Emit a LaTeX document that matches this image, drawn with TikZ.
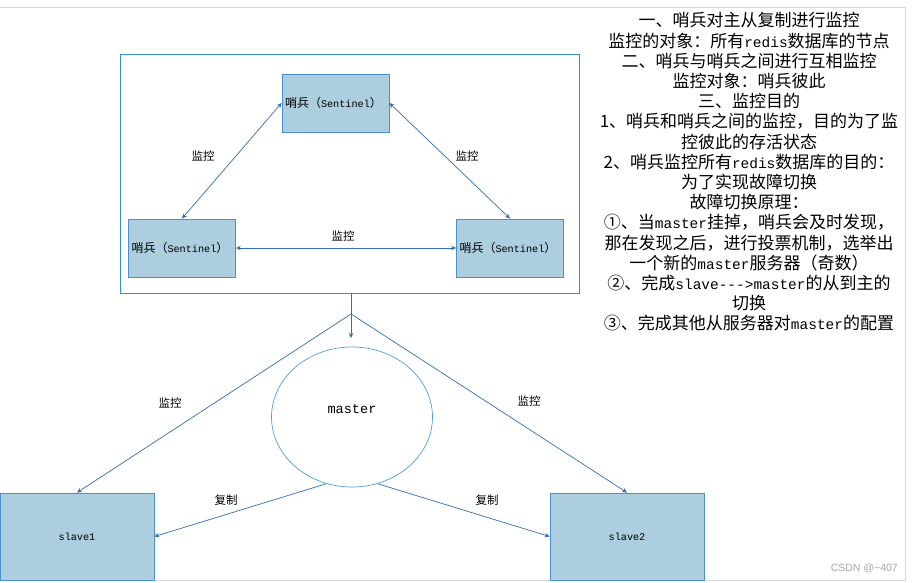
\documentclass[tikz,border=0pt]{standalone}
\usepackage{fontspec}
\setmainfont{Noto Sans CJK SC}
\newfontfamily\latfont{Liberation Mono}[Scale=0.85]
\newfontfamily\wmfont{Liberation Sans}
\newcommand\mono[1]{{\latfont #1}}
\usetikzlibrary{arrows.meta,shapes.geometric}
\definecolor{framegray}{HTML}{D9D9D9}
\definecolor{outerblue}{HTML}{3A8CD0}
\definecolor{boxline}{HTML}{4A90D0}
\definecolor{boxfill}{HTML}{ACCEDE}
\definecolor{arrowblue}{HTML}{2F70B0}
\definecolor{ellblue}{HTML}{4DA3E0}
\tikzset{
  sentbox/.style={draw=boxline, fill=boxfill, line width=0.8pt, inner xsep=3pt, inner ysep=0pt,
    text width=101pt, align=left, minimum height=58pt, font=\fontsize{12}{13}\selectfont},
  slavebox/.style={draw=boxline, fill=boxfill, line width=0.8pt, minimum width=154pt, minimum height=87pt,
    inner sep=0pt, font=\fontsize{12}{13}\selectfont\latfont},
  conn/.style={draw=arrowblue, line width=0.7pt},
  tip/.style={-{Stealth[length=5pt,width=4.5pt]}},
  dtip/.style={{Stealth[length=5pt,width=4.5pt]}-{Stealth[length=5pt,width=4.5pt]}},
  lbl/.style={font=\fontsize{11.5}{13}\selectfont, inner sep=0pt},
}
\begin{document}
\begin{tikzpicture}[x=1pt,y=-1pt]
\useasboundingbox (0,0) rectangle (913,583);
\fill[white] (0,0) rectangle (913,583);
% light frame
\draw[framegray, line width=0.8pt] (-2,7) -- (905,7) -- (905,580) -- (-2,580);

% sentinel group
\node[draw=outerblue, line width=0.8pt, minimum width=459pt, minimum height=239pt, inner sep=0pt] (group) at (349.5,173.5) {};
\node[sentbox] (stop) at (335.5,103) {哨兵（\mono{Sentinel}）};
\node[sentbox] (sleft) at (182,248) {哨兵（\mono{Sentinel}）};
\node[sentbox] (sright) at (510,248) {哨兵（\mono{Sentinel}）};

\draw[conn,dtip] (stop.west) -- (sleft.north);
\draw[conn,dtip] (stop.east) -- (sright.north);
\draw[conn,dtip] (sleft.east) -- (sright.west);
\node[lbl] (l1) at (203,156) {监控};
\node[lbl] (l2) at (467,156) {监控};
\node[lbl] (l3) at (343,236) {监控};

% master and slaves
\coordinate (apex) at (351,314);
\coordinate (down) at (351,338);
\draw[conn,tip] (group.south -| apex) -- (down);

\node[draw=ellblue, line width=0.7pt, ellipse, minimum width=161pt, minimum height=140pt, inner sep=0pt,
  text height=8pt, text depth=16pt, font=\fontsize{16}{18}\selectfont\latfont] (master) at (352,417) {master};

\node[slavebox] (slave1) at (77,536.5) {slave1};
\node[slavebox] (slave2) at (627,536.5) {slave2};

\draw[conn,tip] (apex) -- (slave1.north);
\draw[conn,tip] (apex) -- (slave2.north);
\draw[conn,tip] (master.249) -- (slave1.east);
\draw[conn,tip] (master.291) -- (slave2.west);

\node[lbl] (l4) at (170,403) {监控};
\node[lbl] (l5) at (529,401) {监控};
\node[lbl] (c1) at (226,500) {复制};
\node[lbl] (c2) at (487,500) {复制};

% explanation text
\node[anchor=north, align=center, inner sep=0pt, font=\fontsize{17}{20.2}\selectfont] (notes) at (749,12.5) {%
一、哨兵对主从复制进行监控\\
监控的对象：所有\mono{redis}数据库的节点\\
二、哨兵与哨兵之间进行互相监控\\
监控对象：哨兵彼此\\
三、监控目的\\
1、哨兵和哨兵之间的监控，目的为了监\\
控彼此的存活状态\\
2、哨兵监控所有\mono{redis}数据库的目的：\\
为了实现故障切换\\
故障切换原理：\\
①、当\mono{master}挂掉，哨兵会及时发现，\\
那在发现之后，进行投票机制，选举出\\
一个新的\mono{master}服务器（奇数）\\
②、完成\mono{slave-{}-{}->master}的从到主的\\
切换\\
③、完成其他从服务器对\mono{master}的配置};

\node[anchor=east, inner sep=0pt, text=gray!70, font=\fontsize{10.5}{12}\selectfont\wmfont] (wm) at (898,568) {CSDN @\textasciitilde407};
\end{tikzpicture}
\end{document}
